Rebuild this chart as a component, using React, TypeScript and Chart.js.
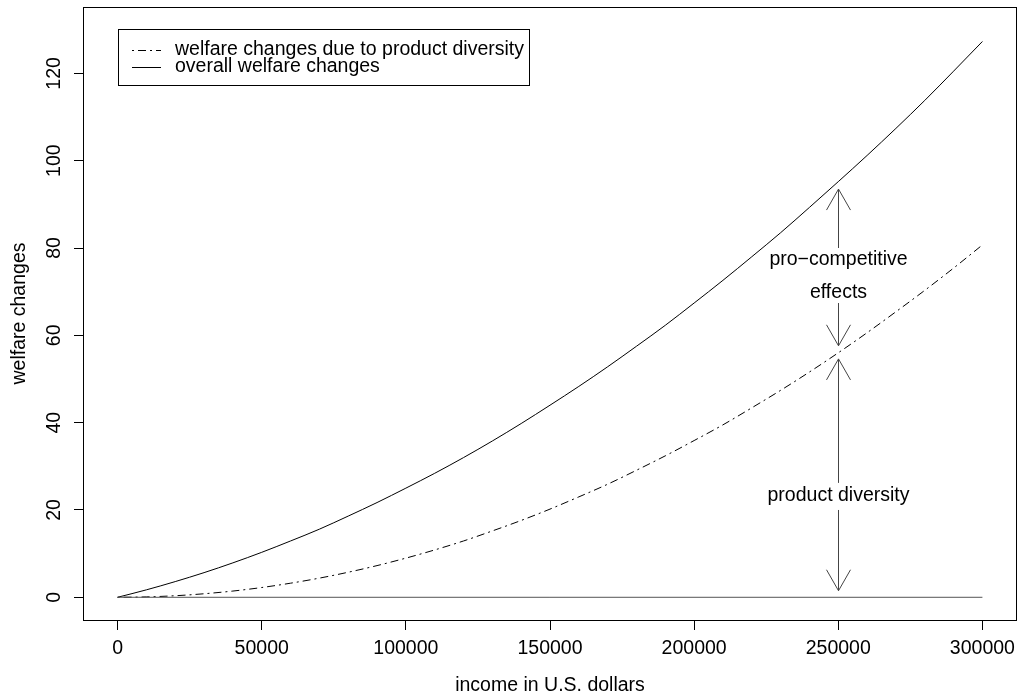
import React, { useEffect, useRef } from "react";
import { Chart, registerables } from "chart.js";

Chart.register(...registerables);

// income in thousands of U.S. dollars
const incomeK = [0, 10, 20, 30, 40, 50, 60, 70, 80, 90, 100, 110, 120, 130, 140, 150, 160, 170, 180, 190, 200, 210, 220, 230, 240, 250, 260, 270, 280, 290, 300];
const overallWelfare = [0, 1.71, 3.6, 5.65, 7.89, 10.3, 12.9, 15.6, 18.6, 21.7, 25.0, 28.4, 32.0, 35.8, 39.8, 44.0, 48.3, 52.8, 57.5, 62.3, 67.4, 72.6, 78.0, 83.5, 89.3, 95.2, 101.2, 107.4, 113.8, 120.5, 127.3];
const diversityWelfare = [0, 0.09, 0.36, 0.81, 1.43, 2.24, 3.23, 4.39, 5.74, 7.26, 8.97, 10.85, 12.9, 15.2, 17.6, 20.2, 23.0, 25.9, 29.1, 32.4, 35.9, 39.5, 43.4, 47.4, 51.6, 56.0, 60.6, 65.4, 70.3, 75.4, 80.7];
const zeroLine = [0, 0];
const zeroLineX = [0, 300000];

const xTicks = [0, 50000, 100000, 150000, 200000, 250000, 300000];
const yTicks = [0, 20, 40, 60, 80, 100, 120];

const legendLabels = ["welfare changes due to product diversity", "overall welfare changes"];

// annotation arrows at income 250000: [start, tip] in welfare units
const arrowX = 250000;
const arrowSegments = [
  [80, 93.5],
  [67.4, 57.6],
  [26.2, 54.6],
  [20, 1.5],
];
const annotationTexts = ["pro\u2212competitive", "effects", "product diversity"];
const annotationY = [77.3, 69.8, 23.3];

const FONT = "'Liberation Sans', Arial, Helvetica, sans-serif";
const FS = 19.5;
const DOTDASH = [2, 4, 8, 4];

export default function App() {
  const ref = useRef<HTMLCanvasElement | null>(null);

  useEffect(() => {
    const canvas = ref.current;
    if (!canvas) return;

    const overlay = {
      id: "overlay",
      afterDraw(chart: any) {
        const { ctx, chartArea } = chart;
        const xs = chart.scales.x;
        const ys = chart.scales.y;
        ctx.save();
        // plot box
        ctx.strokeStyle = "#000";
        ctx.lineWidth = 1;
        ctx.setLineDash([]);
        ctx.strokeRect(
          Math.round(chartArea.left) + 0.5,
          Math.round(chartArea.top) + 0.5,
          Math.round(chartArea.right - chartArea.left) - 1,
          Math.round(chartArea.bottom - chartArea.top)
        );

        // legend
        const lx = 118.5, ly = 29.5, lw = 411, lh = 56;
        ctx.fillStyle = "#fff";
        ctx.fillRect(lx, ly, lw, lh);
        ctx.strokeRect(lx, ly, lw, lh);
        const rows = [49.5, 67];
        const dashes = [DOTDASH, []];
        ctx.font = `${FS}px ${FONT}`;
        ctx.textBaseline = "middle";
        ctx.textAlign = "left";
        for (let i = 0; i < 2; i++) {
          ctx.beginPath();
          ctx.setLineDash(dashes[i]);
          ctx.strokeStyle = "#000";
          ctx.moveTo(132, Math.round(rows[i]) + 0.5);
          ctx.lineTo(161, Math.round(rows[i]) + 0.5);
          ctx.stroke();
          ctx.fillStyle = "#000";
          ctx.fillText(legendLabels[i], 175, rows[i]);
        }
        ctx.setLineDash([]);

        // arrows
        const px = Math.round(xs.getPixelForValue(arrowX)) + 0.5;
        ctx.strokeStyle = "#444";
        ctx.lineWidth = 1;
        for (const [from, tip] of arrowSegments) {
          const y0 = ys.getPixelForValue(from);
          const y1 = ys.getPixelForValue(tip);
          ctx.beginPath();
          ctx.moveTo(px, y0);
          ctx.lineTo(px, y1);
          const dir = y1 < y0 ? 1 : -1;
          ctx.moveTo(px - 12, y1 + dir * 21);
          ctx.lineTo(px, y1);
          ctx.lineTo(px + 12, y1 + dir * 21);
          ctx.stroke();
        }
        ctx.fillStyle = "#000";
        ctx.textAlign = "center";
        ctx.font = `${FS}px ${FONT}`;
        annotationTexts.forEach((t, i) => {
          ctx.fillText(t, px, ys.getPixelForValue(annotationY[i]));
        });
        ctx.restore();
      },
    };

    const chart = new Chart(canvas, {
      type: "line",
      data: {
        datasets: [
          {
            label: "zero",
            data: zeroLineX.map((x, i) => ({ x, y: zeroLine[i] })),
            borderColor: "#555",
            borderWidth: 1,
            pointRadius: 0,
          },
          {
            label: legendLabels[0],
            data: incomeK.map((k, i) => ({ x: k * 1000, y: diversityWelfare[i] })),
            borderColor: "#000",
            borderWidth: 1,
            borderDash: DOTDASH,
            pointRadius: 0,
            cubicInterpolationMode: "monotone",
          },
          {
            label: legendLabels[1],
            data: incomeK.map((k, i) => ({ x: k * 1000, y: overallWelfare[i] })),
            borderColor: "#000",
            borderWidth: 1,
            pointRadius: 0,
            cubicInterpolationMode: "monotone",
          },
        ],
      },
      options: {
        animation: false,
        responsive: false,
        devicePixelRatio: 1,
        events: [],
        layout: { padding: { left: 0, top: 7, right: 2, bottom: 0 } },
        plugins: {
          legend: { display: false },
          tooltip: { enabled: false },
          title: { display: false },
        },
        scales: {
          x: {
            type: "linear",
            min: -12000,
            max: 312000,
            afterBuildTicks: (s: any) => {
              s.ticks = xTicks.map((v) => ({ value: v }));
            },
            afterFit: (s: any) => {
              s.height = 80;
              s.paddingLeft = 0;
              s.paddingRight = 0;
            },
            grid: {
              drawOnChartArea: false,
              drawTicks: true,
              tickLength: 10,
              tickColor: "#000",
              color: "#000",
            },
            border: { display: false },
            ticks: {
              color: "#000",
              font: { family: FONT, size: FS },
              padding: 7,
              maxRotation: 0,
              minRotation: 0,
              autoSkip: false,
              callback: (v: any) => String(v),
            },
            title: {
              display: true,
              text: "income in U.S. dollars",
              color: "#000",
              font: { family: FONT, size: FS },
              padding: { top: 0, bottom: 3 },
            },
          },
          y: {
            type: "linear",
            min: -5.2,
            max: 135.2,
            afterBuildTicks: (s: any) => {
              s.ticks = yTicks.map((v) => ({ value: v }));
            },
            afterFit: (s: any) => {
              s.width = 83;
              s.paddingTop = 0;
              s.paddingBottom = 0;
            },
            grid: {
              drawOnChartArea: false,
              drawTicks: true,
              tickLength: 9,
              tickColor: "#000",
              color: "#000",
            },
            border: { display: false },
            ticks: {
              color: "#000",
              font: { family: FONT, size: FS },
              padding: 3,
              minRotation: 90,
              maxRotation: 90,
              crossAlign: "center",
              autoSkip: false,
              callback: (v: any) => String(v),
            },
            title: {
              display: true,
              text: "welfare changes",
              color: "#000",
              font: { family: FONT, size: FS },
              padding: { top: 8, bottom: 0 },
            },
          },
        },
      },
      plugins: [overlay],
    } as any);

    return () => chart.destroy();
  }, []);

  return (
    <div style={{ position: "fixed", left: 0, top: 0, width: 1019, height: 700, background: "#fff" }}>
      <canvas ref={ref} width={1019} height={700} style={{ display: "block" }} />
    </div>
  );
}
